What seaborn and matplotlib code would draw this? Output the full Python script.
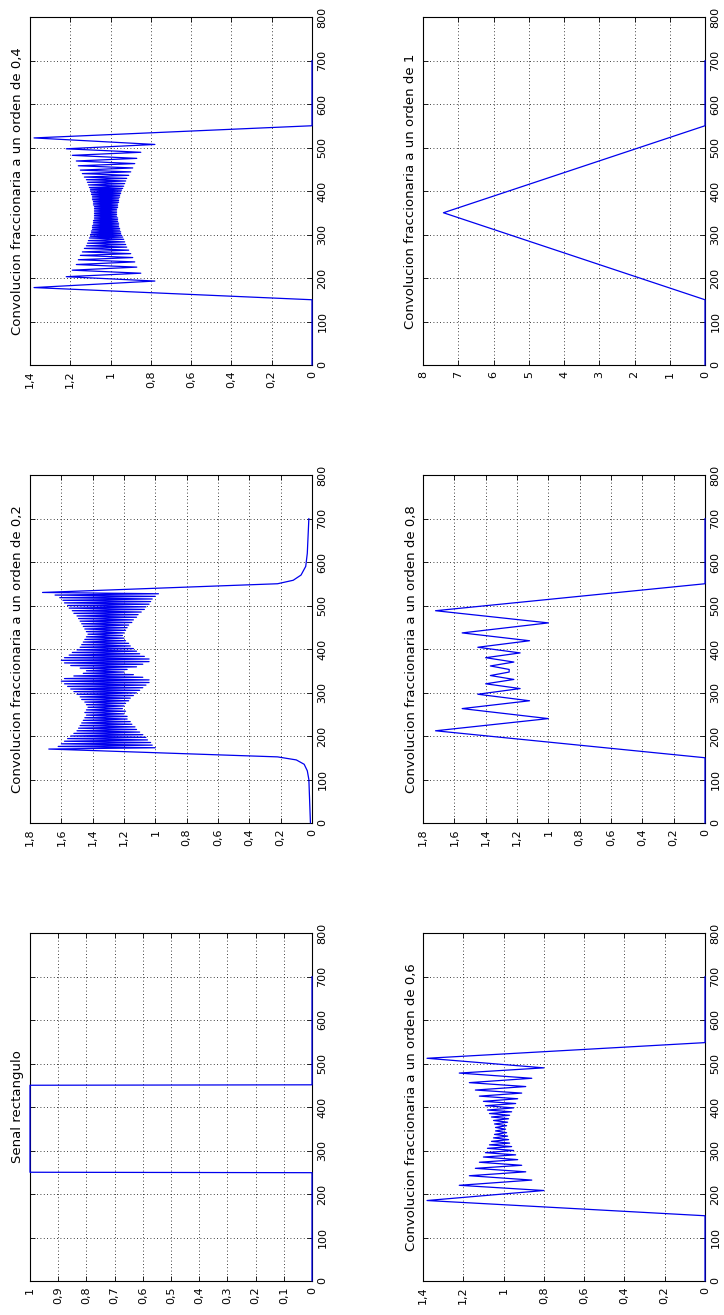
import numpy as np
import pandas as pd
import matplotlib
matplotlib.use("Agg")
import matplotlib.pyplot as plt
import seaborn as sns

sns.set_theme(style="white")
plt.rcParams["font.family"] = ["DejaVu Sans"]

# ---------------- data ----------------
titles = ["Convolucion fraccionaria a un orden de 0,4",
          "Convolucion fraccionaria a un orden de 1",
          "Convolucion fraccionaria a un orden de 0,2",
          "Convolucion fraccionaria a un orden de 0,8",
          "Senal rectangulo",
          "Convolucion fraccionaria a un orden de 0,6"]

n_ticks = [0, 100, 200, 300, 400, 500, 600, 700, 800]

ticks_14 = [0, 0.2, 0.4, 0.6, 0.8, 1, 1.2, 1.4]
ticks_18 = [0, 0.2, 0.4, 0.6, 0.8, 1, 1.2, 1.4, 1.6, 1.8]
ticks_8 = [0, 1, 2, 3, 4, 5, 6, 7, 8]
ticks_1 = [0, 0.1, 0.2, 0.3, 0.4, 0.5, 0.6, 0.7, 0.8, 0.9, 1]

rect_n = [0, 249, 250, 450, 451, 700]
rect_v = [0, 0, 1, 1, 0, 0]

ord1_n = [0, 150, 350, 550, 700]
ord1_v = [0, 0, 7.42, 0, 0]

ord08_n = [0, 150, 212, 240, 263, 281, 296, 309, 320, 330, 339, 347,
           353, 361, 370, 380, 391, 404, 419, 437, 460, 488, 550, 700]
ord08_v = [0, 0, 1.72, 1.00, 1.55, 1.12, 1.45, 1.18, 1.40, 1.22, 1.37, 1.25,
           1.25, 1.37, 1.22, 1.40, 1.18, 1.45, 1.12, 1.55, 1.00, 1.72, 0, 0]

ord06_n = [0, 150, 185, 208, 220, 232, 242, 251, 259, 266, 273, 279, 285, 290,
           295, 300, 305, 309, 313, 317, 321, 325, 329, 333, 337, 341, 345, 349,
           353, 357, 361, 365, 369, 373, 377, 381, 385, 389, 393, 398, 403, 408,
           413, 419, 425, 432, 439, 447, 456, 466, 478, 490, 512, 548, 700]
ord06_v = [0, 0, 1.38, 0.80, 1.22, 0.86, 1.17, 0.89, 1.14, 0.91, 1.12, 0.93, 1.10, 0.94,
           1.09, 0.95, 1.08, 0.96, 1.07, 0.97, 1.06, 0.975, 1.05, 0.98, 1.045, 0.985, 1.04, 0.99,
           1.04, 0.985, 1.045, 0.98, 1.05, 0.975, 1.06, 0.97, 1.07, 0.96, 1.08, 0.95, 1.09, 0.94,
           1.10, 0.93, 1.12, 0.91, 1.14, 0.89, 1.17, 0.86, 1.22, 0.80, 1.38, 0, 0]

ord04_n = [0, 150, 178, 193, 203, 211, 218, 225, 231, 237, 242, 247, 252, 256, 260,
           264, 268, 271, 274, 277, 280, 283, 286, 289, 292, 294, 296, 298,
           300, 302, 304, 306, 308, 310, 312, 314, 316, 318, 320, 322, 324, 326,
           328, 330, 332, 334, 336, 338, 340, 342, 344, 346, 348, 350, 352, 354,
           356, 358, 360, 362, 364, 366, 368, 370, 372, 374, 376, 378, 380, 382,
           384, 386, 388, 390, 392, 394, 396, 398, 400,
           402, 404, 406, 408, 411, 414, 417, 420, 423, 426, 429, 432, 436, 440,
           444, 448, 453, 458, 463, 469, 475, 482, 489, 497, 507, 522, 550, 700]
ord04_v = [0, 0, 1.38, 0.78, 1.22, 0.85, 1.19, 0.87, 1.17, 0.88, 1.16, 0.89, 1.15, 0.90, 1.14,
           0.91, 1.13, 0.92, 1.12, 0.925, 1.115, 0.93, 1.11, 0.935, 1.105, 0.94, 1.10, 0.945,
           1.10, 0.95, 1.095, 0.95, 1.095, 0.955, 1.09, 0.955, 1.09, 0.96, 1.09, 0.96, 1.085, 0.96,
           1.085, 0.965, 1.085, 0.965, 1.08, 0.965, 1.08, 0.97, 1.08, 0.97, 1.08, 0.97, 1.08, 0.97,
           1.08, 0.97, 1.08, 0.965, 1.08, 0.965, 1.085, 0.965, 1.085, 0.96, 1.085, 0.96, 1.09, 0.96,
           1.09, 0.955, 1.09, 0.955, 1.095, 0.95, 1.095, 0.95, 1.10,
           0.945, 1.10, 0.94, 1.105, 0.935, 1.11, 0.93, 1.115, 0.925, 1.12, 0.92, 1.13, 0.91, 1.14,
           0.90, 1.15, 0.89, 1.16, 0.88, 1.17, 0.87, 1.19, 0.85, 1.22, 0.78, 1.38, 0, 0]

ord02_n = [0, 50, 100, 120, 135, 145, 152, 170,
           173, 176, 179, 182, 185, 188, 191, 194, 197, 200, 203, 206, 209, 212, 215, 218,
           221, 224, 227, 230, 233, 236, 239, 242, 245, 248, 251, 254, 257, 260, 263, 266,
           269, 272, 275, 278, 281, 284, 287, 290, 293, 296, 299, 302, 305, 308, 311, 314,
           317, 320, 323, 326, 329, 332, 335, 338, 341, 344, 347, 350, 353, 356, 359, 362,
           365, 368, 371, 374, 377, 380, 383, 386, 389, 392, 395, 398, 401, 404, 407, 410,
           413, 416, 419, 422, 425, 428, 431, 434, 437, 440, 443, 446, 449, 452, 455, 458,
           461, 464, 467, 470, 473, 476, 479, 482, 485, 488, 491, 494, 497, 500, 503, 506,
           509, 512, 515, 518, 521, 524, 527, 530,
           550, 558, 570, 590, 620, 700]
ord02_v = [0.01, 0.015, 0.02, 0.03, 0.05, 0.1, 0.22, 1.68,
           1.00, 1.62, 1.02, 1.60, 1.03, 1.58, 1.05, 1.56, 1.06, 1.54, 1.08, 1.52, 1.10, 1.50, 1.12, 1.49,
           1.13, 1.48, 1.15, 1.47, 1.16, 1.46, 1.18, 1.45, 1.18, 1.44, 1.20, 1.45, 1.19, 1.44, 1.21, 1.43,
           1.20, 1.44, 1.19, 1.45, 1.17, 1.47, 1.16, 1.48, 1.14, 1.50, 1.12, 1.52, 1.10, 1.54, 1.08, 1.56,
           1.06, 1.58, 1.04, 1.60, 1.04, 1.58, 1.08, 1.52, 1.14, 1.46, 1.20, 1.44, 1.18, 1.48, 1.12, 1.54,
           1.08, 1.58, 1.04, 1.60, 1.04, 1.58, 1.07, 1.55, 1.10, 1.53, 1.12, 1.50, 1.14, 1.48, 1.16, 1.47,
           1.17, 1.46, 1.19, 1.45, 1.20, 1.44, 1.21, 1.43, 1.20, 1.44, 1.19, 1.45, 1.18, 1.46, 1.17, 1.47,
           1.15, 1.48, 1.14, 1.49, 1.12, 1.50, 1.11, 1.52, 1.09, 1.53, 1.07, 1.55, 1.06, 1.56, 1.04, 1.58,
           1.03, 1.59, 1.02, 1.61, 1.00, 1.64, 0.98, 1.72,
           0.22, 0.12, 0.07, 0.04, 0.03, 0.02]

panels = [
    (titles[0], ord04_n, ord04_v, 1.4, ticks_14),
    (titles[1], ord1_n, ord1_v, 8, ticks_8),
    (titles[2], ord02_n, ord02_v, 1.8, ticks_18),
    (titles[3], ord08_n, ord08_v, 1.8, ticks_18),
    (titles[4], rect_n, rect_v, 1, ticks_1),
    (titles[5], ord06_n, ord06_v, 1.4, ticks_14),
]

# ---------------- layout (pixels of a 724 x 1315 canvas) ----------------
W, H = 724, 1315
col_x = [30, 423]
ax_w = 282
row_top = [17, 475, 933]
ax_h = 348

fig = plt.figure(figsize=(W / 100, H / 100), dpi=100)
fig.patch.set_facecolor("white")

for i, (title, n, v, vmax, vt) in enumerate(panels):
    r, c = divmod(i, 2)
    left = col_x[c] / W
    bottom = 1 - (row_top[r] + ax_h) / H
    ax = fig.add_axes([left, bottom, ax_w / W, ax_h / H])
    df = pd.DataFrame({"n": n, "v": v})
    sns.lineplot(data=df, x="v", y="n", sort=False, estimator=None,
                 color="#0000ee", lw=0.9, ax=ax)
    for ln in ax.lines:
        ln.set_clip_on(False)
        ln.set_zorder(5)
    ax.set_xlim(vmax, 0)
    ax.set_ylim(0, 800)
    ax.set_xticks(vt)
    ax.set_xticklabels([f"{t:g}".replace(".", ",") for t in vt])
    ax.set_yticks(n_ticks)
    ax.set_yticklabels([str(t) for t in n_ticks])
    ax.set_xlabel("")
    ax.set_ylabel("")
    ax.yaxis.tick_right()
    ax.tick_params(axis="both", direction="in", length=3.5, width=0.6,
                   colors="black", labelsize=8, labelrotation=90,
                   top=True, bottom=True, left=True, right=True,
                   labelbottom=True, labeltop=False,
                   labelleft=False, labelright=True, pad=4)
    for lbl in ax.get_yticklabels():
        lbl.set_va("center")
    ax.grid(True, linestyle=(0, (1, 3)), color="black", lw=0.6)
    for s in ax.spines.values():
        s.set_color("black")
        s.set_linewidth(0.8)
    ax.set_facecolor("white")
    ax.text(-12 / ax_w, 0.5, title, rotation=90, transform=ax.transAxes,
            ha="center", va="center", fontsize=9.5, color="black")

fig.savefig("out.png", dpi=100, facecolor="white")
